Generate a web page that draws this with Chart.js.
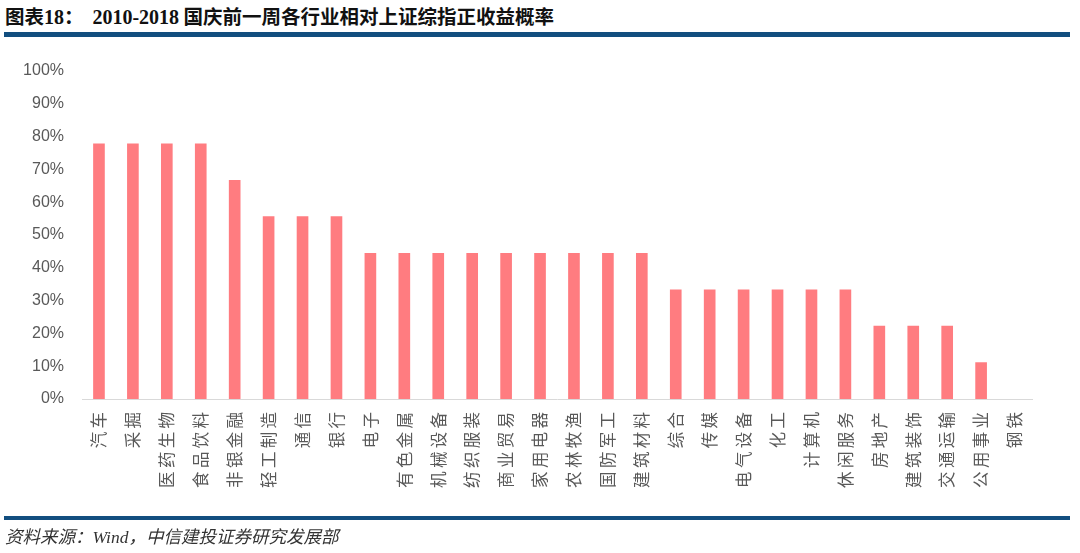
<!DOCTYPE html>
<html>
<head>
<meta charset="utf-8">
<script src="https://cdn.jsdelivr.net/npm/chart.js@4/dist/chart.umd.min.js"></script>
<style>
  body { margin: 0; background: #fff; }
  #wrap { position: relative; width: 1080px; height: 553px; overflow: hidden; }
  #chart { position: absolute; left: 0; top: 0; }
  .title { position: absolute; left: 5px; top: 1px; font-size: 19.5px; font-weight: bold; color: #111; white-space: nowrap; font-family: "Noto Sans CJK SC", sans-serif; }
  .title .num { font-family: "Liberation Serif", "Times New Roman", serif; font-size: 20px; }
  .rule { position: absolute; left: 4px; width: 1066px; background: #124e7f; }
  .source { position: absolute; left: 5px; top: 523px; font-size: 17.5px; font-style: italic; color: #333; white-space: nowrap; font-family: "Liberation Serif", "Noto Sans CJK SC", serif; }
</style>
</head>
<body>
<div id="wrap">
  <div class="title">图表<span class="num">18</span>：&nbsp;&nbsp;<span class="num">2010-2018</span> 国庆前一周各行业相对上证综指正收益概率</div>
  <div class="rule" style="top:32px;height:5px;"></div>
  <canvas id="chart" width="1080" height="553"></canvas>
  <div class="rule" style="top:516px;height:4px;"></div>
  <div class="source">资料来源：Wind，中信建投证券研究发展部</div>
</div>
<script>
// 2010-2018 九年中跑赢上证综指的年份占比
const industries = ['汽车', '采掘', '医药生物', '食品饮料', '非银金融', '轻工制造', '通信', '银行', '电子', '有色金属',
  '机械设备', '纺织服装', '商业贸易', '家用电器', '农林牧渔', '国防军工', '建筑材料', '综合', '传媒', '电气设备',
  '化工', '计算机', '休闲服务', '房地产', '建筑装饰', '交通运输', '公用事业', '钢铁'];
const winProb = [0.778, 0.778, 0.778, 0.778, 0.667, 0.556, 0.556, 0.556, 0.444, 0.444,
  0.444, 0.444, 0.444, 0.444, 0.444, 0.444, 0.444, 0.333, 0.333, 0.333,
  0.333, 0.333, 0.333, 0.222, 0.222, 0.222, 0.111, 0];
const yTicks = [0, 0.1, 0.2, 0.3, 0.4, 0.5, 0.6, 0.7, 0.8, 0.9, 1];

const tickColor = '#595959';

new Chart(document.getElementById('chart').getContext('2d'), {
    type: 'bar',
    data: {
        labels: industries,
        datasets: [{
            data: winProb,
            // zero bar would leave a hairline on the axis
            backgroundColor: c => (c.raw > 0 ? '#ff7c80' : 'rgba(0,0,0,0)'),
            barThickness: 11, borderWidth: 0
        }]
    },
    options: {
        responsive: false, animation: false,
        layout: { padding: { top: 71, right: 48, bottom: 0, left: 0 } },
        plugins: { legend: { display: false }, tooltip: { enabled: false } },
        scales: {
            x: {
                grid: { display: false, drawTicks: false },
                border: { display: true, color: '#d9d9d9', width: 1 },
                ticks: {
                    color: tickColor, minRotation: 90, maxRotation: 90, autoSkip: false, padding: 13,
                    font: { size: 16.5, family: '"Noto Sans CJK SC", sans-serif' },
                    callback: (v, i) => industries[i].split('').join('\u2009')
                },
                afterFit: s => { s.height = 154; }
            },
            y: {
                min: 0, max: 1,
                afterBuildTicks: s => { s.ticks = yTicks.map(v => ({ value: v })); },
                grid: { display: false, drawTicks: false },
                border: { display: false },
                ticks: {
                    color: tickColor, padding: 18,
                    font: { size: 16, family: '"Liberation Sans", sans-serif' },
                    callback: v => Math.round(v * 100) + '%'
                },
                afterFit: s => { s.width = 82; }
            }
        }
    }
});
</script>
</body>
</html>
